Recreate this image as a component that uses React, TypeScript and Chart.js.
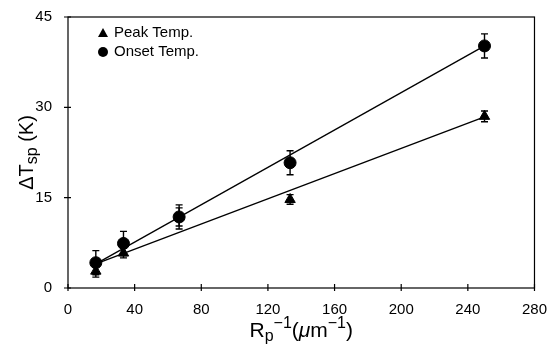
import React, { useEffect, useRef } from "react";
import { Chart, registerables } from "chart.js";
Chart.register(...registerables);

const xValues = [16.7, 33.3, 66.7, 133.3, 250];
const peakTemp = [2.8, 5.8, 11.8, 14.7, 28.5];
const peakErr = [1.0, 0.8, 1.5, 0.8, 0.9];
const onsetTemp = [4.2, 7.4, 11.8, 20.8, 40.2];
const onsetErr = [2.0, 2.0, 2.0, 2.0, 2.0];
const fitX = [16.7, 250];
const peakFit = [4.0, 28.4];
const onsetFit = [4.0, 40.2];
const legendLabels = ["Peak Temp.", "Onset Temp."];
const xTicks = [0, 40, 80, 120, 160, 200, 240, 280];
const yTicks = [0, 15, 30, 45];

const FONT = "'Liberation Sans', Arial, sans-serif";

const errorBarPlugin = {
  id: "errorBars",
  afterDatasetsDraw(chart: any) {
    const ctx = chart.ctx;
    const xs = chart.scales.x;
    const ys = chart.scales.y;
    ctx.save();
    ctx.strokeStyle = "#000";
    ctx.lineWidth = 1.4;
    chart.data.datasets.forEach((ds: any) => {
      if (!ds.errors) return;
      ds.data.forEach((p: any, i: number) => {
        const e = ds.errors[i];
        const px = xs.getPixelForValue(p.x);
        const y1 = ys.getPixelForValue(p.y - e);
        const y2 = ys.getPixelForValue(p.y + e);
        ctx.beginPath();
        ctx.moveTo(px, y1);
        ctx.lineTo(px, y2);
        ctx.moveTo(px - 3.5, y1);
        ctx.lineTo(px + 3.5, y1);
        ctx.moveTo(px - 3.5, y2);
        ctx.lineTo(px + 3.5, y2);
        ctx.stroke();
      });
    });
    ctx.restore();
  },
};

const framePlugin = {
  id: "frame",
  afterDraw(chart: any) {
    const { ctx, chartArea: a } = chart;
    const xs = chart.scales.x;
    const ys = chart.scales.y;
    ctx.save();
    ctx.strokeStyle = "#000";
    ctx.lineWidth = 1.2;
    ctx.strokeRect(a.left, a.top, a.right - a.left, a.bottom - a.top);
    ctx.beginPath();
    xTicks.forEach((v) => {
      const px = xs.getPixelForValue(v);
      ctx.moveTo(px, a.bottom - 4);
      ctx.lineTo(px, a.bottom + 3);
    });
    yTicks.forEach((v) => {
      const py = ys.getPixelForValue(v);
      ctx.moveTo(a.left - 4, py);
      ctx.lineTo(a.left + 3, py);
    });
    ctx.stroke();

    // legend
    ctx.fillStyle = "#000";
    ctx.font = `15px ${FONT}`;
    ctx.textBaseline = "middle";
    ctx.textAlign = "left";
    const lx = a.left + 35;
    const ly = [a.top + 16, a.top + 35];
    ctx.beginPath();
    ctx.moveTo(lx, ly[0] - 5);
    ctx.lineTo(lx + 5, ly[0] + 4);
    ctx.lineTo(lx - 5, ly[0] + 4);
    ctx.closePath();
    ctx.fill();
    ctx.fillText(legendLabels[0], lx + 11, ly[0]);
    ctx.beginPath();
    ctx.arc(lx, ly[1], 5, 0, Math.PI * 2);
    ctx.fill();
    ctx.fillText(legendLabels[1], lx + 11, ly[1]);

    // x title: R_p^-1(μm^-1)
    const parts: [string, string, boolean?][] = [
      ["R", "n"],
      ["p", "sub"],
      ["\u22121", "sup"],
      ["(", "n"],
      ["\u03bc", "n", true],
      ["m", "n"],
      ["\u22121", "sup"],
      [")", "n"],
    ];
    const big = 21;
    const small = 16;
    const fontFor = (k: string, it?: boolean) =>
      `${it ? "italic " : ""}${k === "n" ? big : small}px ${FONT}`;
    let total = 0;
    parts.forEach(([t, k, it]) => {
      ctx.font = fontFor(k, it);
      total += ctx.measureText(t).width;
    });
    const cx = (a.left + a.right) / 2;
    const by = 337;
    let x = cx - total / 2;
    ctx.textBaseline = "alphabetic";
    parts.forEach(([t, k, it]) => {
      ctx.font = fontFor(k, it);
      const dy = k === "sub" ? 4 : k === "sup" ? -9 : 0;
      ctx.fillText(t, x, by + dy);
      x += ctx.measureText(t).width;
    });

    // y title: ΔT_sp (K)
    ctx.save();
    ctx.translate(27, (a.top + a.bottom) / 2);
    ctx.rotate(-Math.PI / 2);
    const yparts: [string, string][] = [
      ["\u0394T", "n"],
      ["sp", "sub"],
      [" (K)", "n"],
    ];
    const yBig = 20;
    const ySmall = 16;
    let yt = 0;
    yparts.forEach(([t, k]) => {
      ctx.font = `${k === "n" ? yBig : ySmall}px ${FONT}`;
      yt += ctx.measureText(t).width;
    });
    let yx = -yt / 2;
    yparts.forEach(([t, k]) => {
      ctx.font = `${k === "n" ? yBig : ySmall}px ${FONT}`;
      ctx.fillText(t, yx, k === "sub" ? 10 : 6);
      yx += ctx.measureText(t).width;
    });
    ctx.restore();
    ctx.restore();
  },
};

export default function App() {
  const ref = useRef<HTMLCanvasElement>(null);
  useEffect(() => {
    document.body.style.margin = "0";
    const pts = (ys: number[]) => ys.map((y, i) => ({ x: xValues[i], y }));
    const fit = (ys: number[]) => ys.map((y, i) => ({ x: fitX[i], y }));
    const chart = new Chart(ref.current!, {
      type: "scatter",
      data: {
        datasets: [
          {
            label: "Peak fit",
            data: fit(peakFit),
            showLine: true,
            borderColor: "#000",
            borderWidth: 1.3,
            pointRadius: 0,
          },
          {
            label: "Onset fit",
            data: fit(onsetFit),
            showLine: true,
            borderColor: "#000",
            borderWidth: 1.3,
            pointRadius: 0,
          },
          {
            label: legendLabels[0],
            data: pts(peakTemp),
            errors: peakErr,
            pointStyle: "triangle",
            pointRadius: 6,
            backgroundColor: "#000",
            borderColor: "#000",
          } as any,
          {
            label: legendLabels[1],
            data: pts(onsetTemp),
            errors: onsetErr,
            pointStyle: "circle",
            pointRadius: 6,
            backgroundColor: "#000",
            borderColor: "#000",
          } as any,
        ],
      },
      options: {
        animation: false,
        responsive: false,
        layout: { padding: { top: 17, right: 16, left: 0, bottom: 0 } },
        plugins: { legend: { display: false }, tooltip: { enabled: false } },
        scales: {
          x: {
            type: "linear",
            min: 0,
            max: 280,
            afterFit: (s: any) => {
              s.height = 59;
            },
            afterBuildTicks: (s: any) => {
              s.ticks = xTicks.map((v) => ({ value: v }));
            },
            grid: { display: false },
            border: { display: false },
            ticks: {
              color: "#000",
              font: { size: 15, family: FONT },
              padding: 5,
            },
          },
          y: {
            type: "linear",
            min: 0,
            max: 45,
            afterFit: (s: any) => {
              s.width = 68;
            },
            afterBuildTicks: (s: any) => {
              s.ticks = yTicks.map((v) => ({ value: v }));
            },
            grid: { display: false },
            border: { display: false },
            ticks: {
              color: "#000",
              font: { size: 15, family: FONT },
              padding: 8,
            },
          },
        },
      },
      plugins: [errorBarPlugin, framePlugin],
    });
    return () => chart.destroy();
  }, []);
  return (
    <div style={{ width: 552, height: 347 }}>
      <canvas ref={ref} width={552} height={347} />
    </div>
  );
}
